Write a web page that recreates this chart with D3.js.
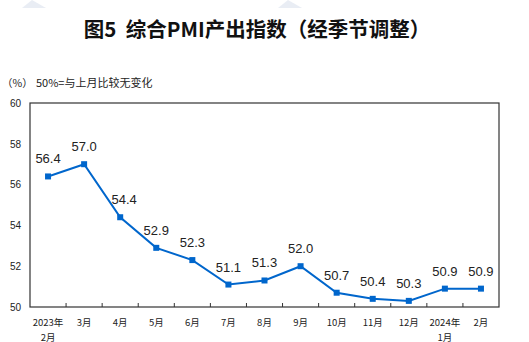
<!DOCTYPE html>
<html><head><meta charset="utf-8">
<script src="https://cdn.jsdelivr.net/npm/d3@7"></script>
<style>
html,body{margin:0;padding:0;background:#fff;}
svg{display:block;}
text{font-family:"Liberation Sans","Noto Sans CJK SC",sans-serif;}
</style></head>
<body>
<svg id="c" width="529" height="342"></svg>
<script>
const categories = ["2023年","3月","4月","5月","6月","7月","8月","9月","10月","11月","12月","2024年","2月"];
const subCategories = ["2月","","","","","","","","","","","1月",""];
const values = [56.4,57.0,54.4,52.9,52.3,51.1,51.3,52.0,50.7,50.4,50.3,50.9,50.9];
const yTicks = [50,52,54,56,58,60];
const labelDx = [0,0,4,0,0,0,0,0,0,0,0,0,0];

const svg = d3.select("#c");
const L = 30, R = 499, T = 103, B = 307;

const x = d3.scaleBand().domain(d3.range(categories.length)).range([L, R]).padding(0);
const y = d3.scaleLinear().domain([50, 60]).range([B, T]);

// faint watermark marks
[[22, 46], [278, 302]].forEach(([a, b]) => {
  svg.append("path").attr("d", `M${a},8 L${(a + b) / 2 - 2},0 L${b},8 Z`).attr("fill", "#dfe6f0").attr("opacity", 0.7);
});

// title
svg.append("text").attr("x", 257).attr("y", 37).attr("text-anchor", "middle")
  .style("font-family", '"Noto Sans CJK SC",sans-serif').style("font-size", "20.5px").style("font-weight", "700")
  .attr("fill", "#111").attr("xml:space", "preserve").text("图5  综合PMI产出指数（经季节调整）");

// unit note
svg.append("text").attr("x", 2).attr("y", 87)
  .style("font-family", '"Noto Sans CJK SC",sans-serif').style("font-size", "10.5px").attr("fill", "#222")
  .text("（%）");
svg.append("text").attr("x", 36).attr("y", 87)
  .style("font-family", '"Noto Sans CJK SC",sans-serif').style("font-size", "11px").attr("fill", "#222")
  .text("50%=与上月比较无变化");

// frame
svg.append("rect").attr("x", L).attr("y", T).attr("width", R - L).attr("height", B - T)
  .attr("fill", "none").attr("stroke", "#333").attr("stroke-width", 1.2);

// y axis labels
const yAxis = d3.axisLeft(y).tickValues(yTicks).tickSize(0).tickPadding(9);
const gy = svg.append("g").attr("transform", `translate(${L},0)`).call(yAxis);
gy.select(".domain").remove();
gy.selectAll("text").style("font-family", '"Liberation Sans",sans-serif').style("font-size", "10px").attr("fill", "#222");

// x ticks (inward, at category boundaries)
const bounds = d3.range(1, categories.length).map(i => x(i));
svg.append("g").selectAll("line").data(bounds).join("line")
  .attr("x1", d => d).attr("x2", d => d).attr("y1", B).attr("y2", B - 4)
  .attr("stroke", "#333").attr("stroke-width", 1);

const cx = i => x(i) + x.bandwidth() / 2;

// x labels
svg.append("g").selectAll("text").data(categories).join("text")
  .attr("x", (d, i) => cx(i)).attr("y", 326)
  .attr("text-anchor", "middle")
  .style("font-family", '"Noto Sans CJK SC",sans-serif').style("font-size", "9.5px").attr("fill", "#222")
  .text(d => d);
svg.append("g").selectAll("text").data(subCategories).join("text")
  .attr("x", (d, i) => cx(i)).attr("y", 340.5)
  .attr("text-anchor", "middle")
  .style("font-family", '"Noto Sans CJK SC",sans-serif').style("font-size", "9.5px").attr("fill", "#222")
  .text(d => d);

// line
const line = d3.line().x((d, i) => cx(i)).y(d => y(d));
svg.append("path").datum(values).attr("d", line).attr("fill", "none")
  .attr("stroke", "#0066cc").attr("stroke-width", 2);

// markers
svg.append("g").selectAll("rect").data(values).join("rect")
  .attr("x", (d, i) => cx(i) - 3).attr("y", d => y(d) - 3)
  .attr("width", 6).attr("height", 6).attr("fill", "#0066cc");

// value labels
svg.append("g").selectAll("text").data(values).join("text")
  .attr("x", (d, i) => cx(i) + labelDx[i]).attr("y", d => y(d) - 13)
  .attr("text-anchor", "middle")
  .style("font-family", '"Liberation Sans",sans-serif').style("font-size", "13px").attr("fill", "#222")
  .text(d => d.toFixed(1));
</script>
</body></html>
